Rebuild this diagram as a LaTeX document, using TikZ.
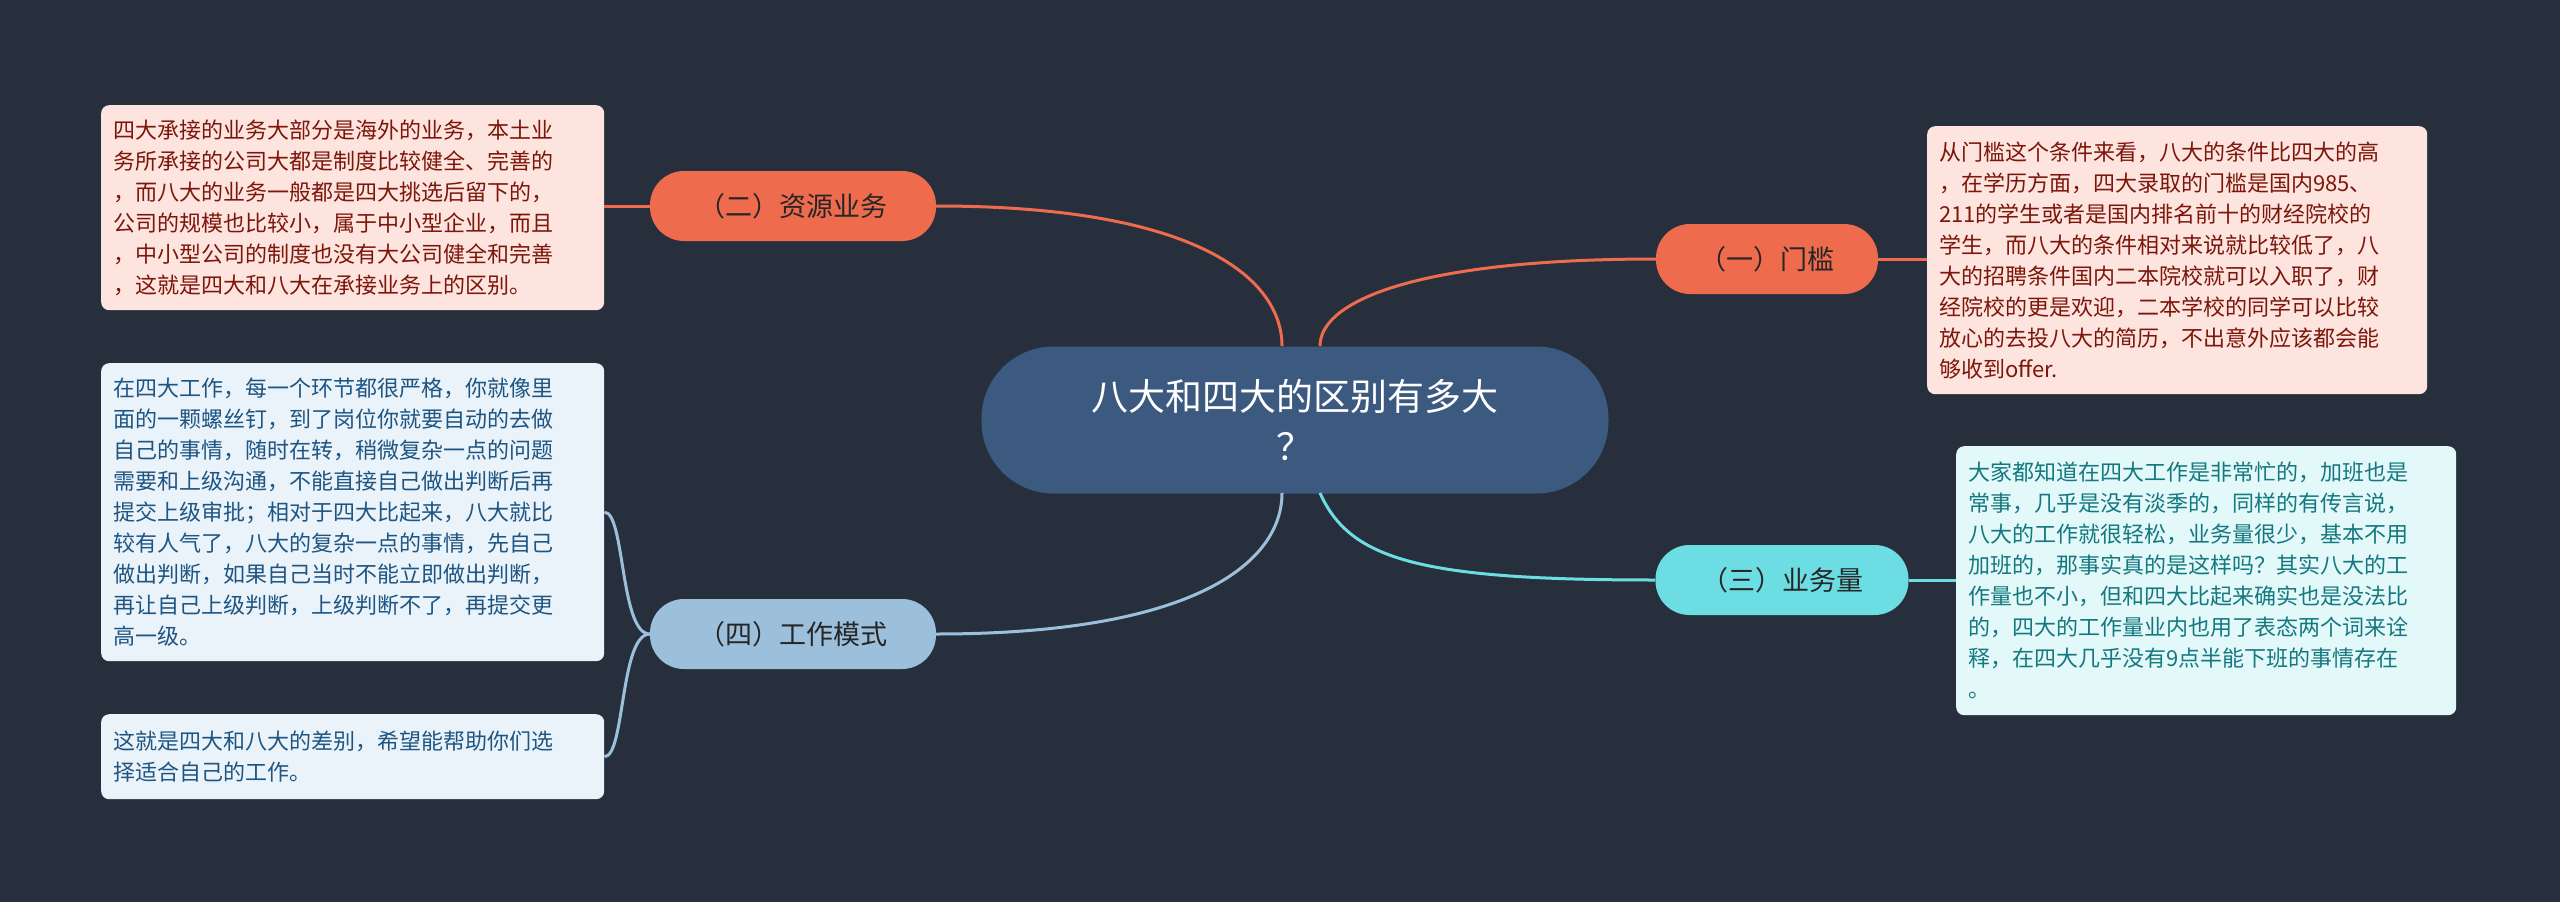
\documentclass[tikz,border=0pt]{standalone}
\usepackage{fontspec}
\setmainfont{Noto Sans CJK SC}
\begin{document}
\begin{tikzpicture}[x=1pt,y=-1pt,
  leaf/.style={rounded corners=8pt,align=left,inner sep=0pt,font=\fontsize{22}{31}\selectfont,anchor=north west},
  br/.style={rounded corners=34pt,minimum height=70pt,inner sep=0pt,font=\fontsize{27}{32}\selectfont,text=black!85},
  ln/.style={line width=3pt}]
\definecolor{bg}{HTML}{272F3D}
\definecolor{cen}{HTML}{3C5A80}
\definecolor{org}{HTML}{EE6B4D}
\definecolor{cya}{HTML}{6CDDE3}
\definecolor{lbl}{HTML}{9CC0DC}
\fill[bg] (0,0) rectangle (2560,902);
\useasboundingbox (0,0) rectangle (2560,902);
\node[fill=cen,rounded corners=72pt,minimum width=627pt,minimum height=147pt,align=center,text=white,font=\fontsize{37}{50}\selectfont] (c) at (1295,420) {八大和四大的区别有多大\\？};
\node[br,fill=org,minimum width=286pt] (b2) at (793,206) {（二）资源业务};
\node[br,fill=org,minimum width=222pt] (b1) at (1767,259) {（一）门槛};
\node[br,fill=cya,minimum width=253pt] (b3) at (1782,580) {（三）业务量};
\node[br,fill=lbl,minimum width=286pt] (b4) at (793,634) {（四）工作模式};
\node[leaf,fill={rgb,255:red,253;green,228;blue,222},text={rgb,255:red,125;green,22;blue,10},minimum width=503pt,minimum height=205pt,text width=478pt,inner xsep=12pt] (l2) at (101,105) {四大承接的业务大部分是海外的业务，本土业\\务所承接的公司大都是制度比较健全、完善的\\，而八大的业务一般都是四大挑选后留下的，\\公司的规模也比较小，属于中小型企业，而且\\，中小型公司的制度也没有大公司健全和完善\\，这就是四大和八大在承接业务上的区别。};
\node[leaf,fill={rgb,255:red,253;green,228;blue,222},text={rgb,255:red,125;green,22;blue,10},minimum width=500pt,minimum height=268pt,text width=476pt,inner xsep=12pt] (l1) at (1927,126) {从门槛这个条件来看，八大的条件比四大的高\\，在学历方面，四大录取的门槛是国内985、\\211的学生或者是国内排名前十的财经院校的\\学生，而八大的条件相对来说就比较低了，八\\大的招聘条件国内二本院校就可以入职了，财\\经院校的更是欢迎，二本学校的同学可以比较\\放心的去投八大的简历，不出意外应该都会能\\够收到offer.};
\node[leaf,fill={rgb,255:red,226;green,248;blue,249},text={rgb,255:red,20;green,120;blue,128},minimum width=500pt,minimum height=269pt,text width=476pt,inner xsep=12pt] (l3) at (1956,446) {大家都知道在四大工作是非常忙的，加班也是\\常事，几乎是没有淡季的，同样的有传言说，\\八大的工作就很轻松，业务量很少，基本不用\\加班的，那事实真的是这样吗？其实八大的工\\作量也不小，但和四大比起来确实也是没法比\\的，四大的工作量业内也用了表态两个词来诠\\释，在四大几乎没有9点半能下班的事情存在\\。};
\node[leaf,fill={rgb,255:red,234;green,243;blue,250},text={rgb,255:red,30;green,85;blue,130},minimum width=503pt,minimum height=298pt,text width=478pt,inner xsep=12pt] (l4a) at (101,363) {在四大工作，每一个环节都很严格，你就像里\\面的一颗螺丝钉，到了岗位你就要自动的去做\\自己的事情，随时在转，稍微复杂一点的问题\\需要和上级沟通，不能直接自己做出判断后再\\提交上级审批；相对于四大比起来，八大就比\\较有人气了，八大的复杂一点的事情，先自己\\做出判断，如果自己当时不能立即做出判断，\\再让自己上级判断，上级判断不了，再提交更\\高一级。};
\node[leaf,fill={rgb,255:red,234;green,243;blue,250},text={rgb,255:red,30;green,85;blue,130},minimum width=503pt,minimum height=85pt,text width=478pt,inner xsep=12pt] (l4b) at (101,714) {这就是四大和八大的差别，希望能帮助你们选\\择适合自己的工作。};
\begin{scope}[on background layer/.style={}]
\end{scope}
\coordinate (c2) at (1282,346);
\coordinate (c1) at (1320,346);
\coordinate (c3) at (1320,493);
\coordinate (c4) at (1282,493);
\draw[ln,org] (b2.east) .. controls (1200,206) and (1282,280) .. (c2);
\draw[ln,org] (b1.west) .. controls (1420,259) and (1320,300) .. (c1);
\draw[ln,cya] (b3.west) .. controls (1420,580) and (1350,560) .. (c3);
\draw[ln,lbl] (b4.east) .. controls (1200,634) and (1282,560) .. (c4);
\draw[ln,org] (b2.west) -- (l2.east |- b2.west);
\draw[ln,org] (b1.east) -- (l1.west |- b1.east);
\draw[ln,cya] (b3.east) -- (l3.west |- b3.east);
\draw[ln,lbl] (b4.west) .. controls (620,634) and (625,512) .. (l4a.east);
\draw[ln,lbl] (b4.west) .. controls (620,634) and (625,757) .. (l4b.east);
\end{tikzpicture}
\end{document}
